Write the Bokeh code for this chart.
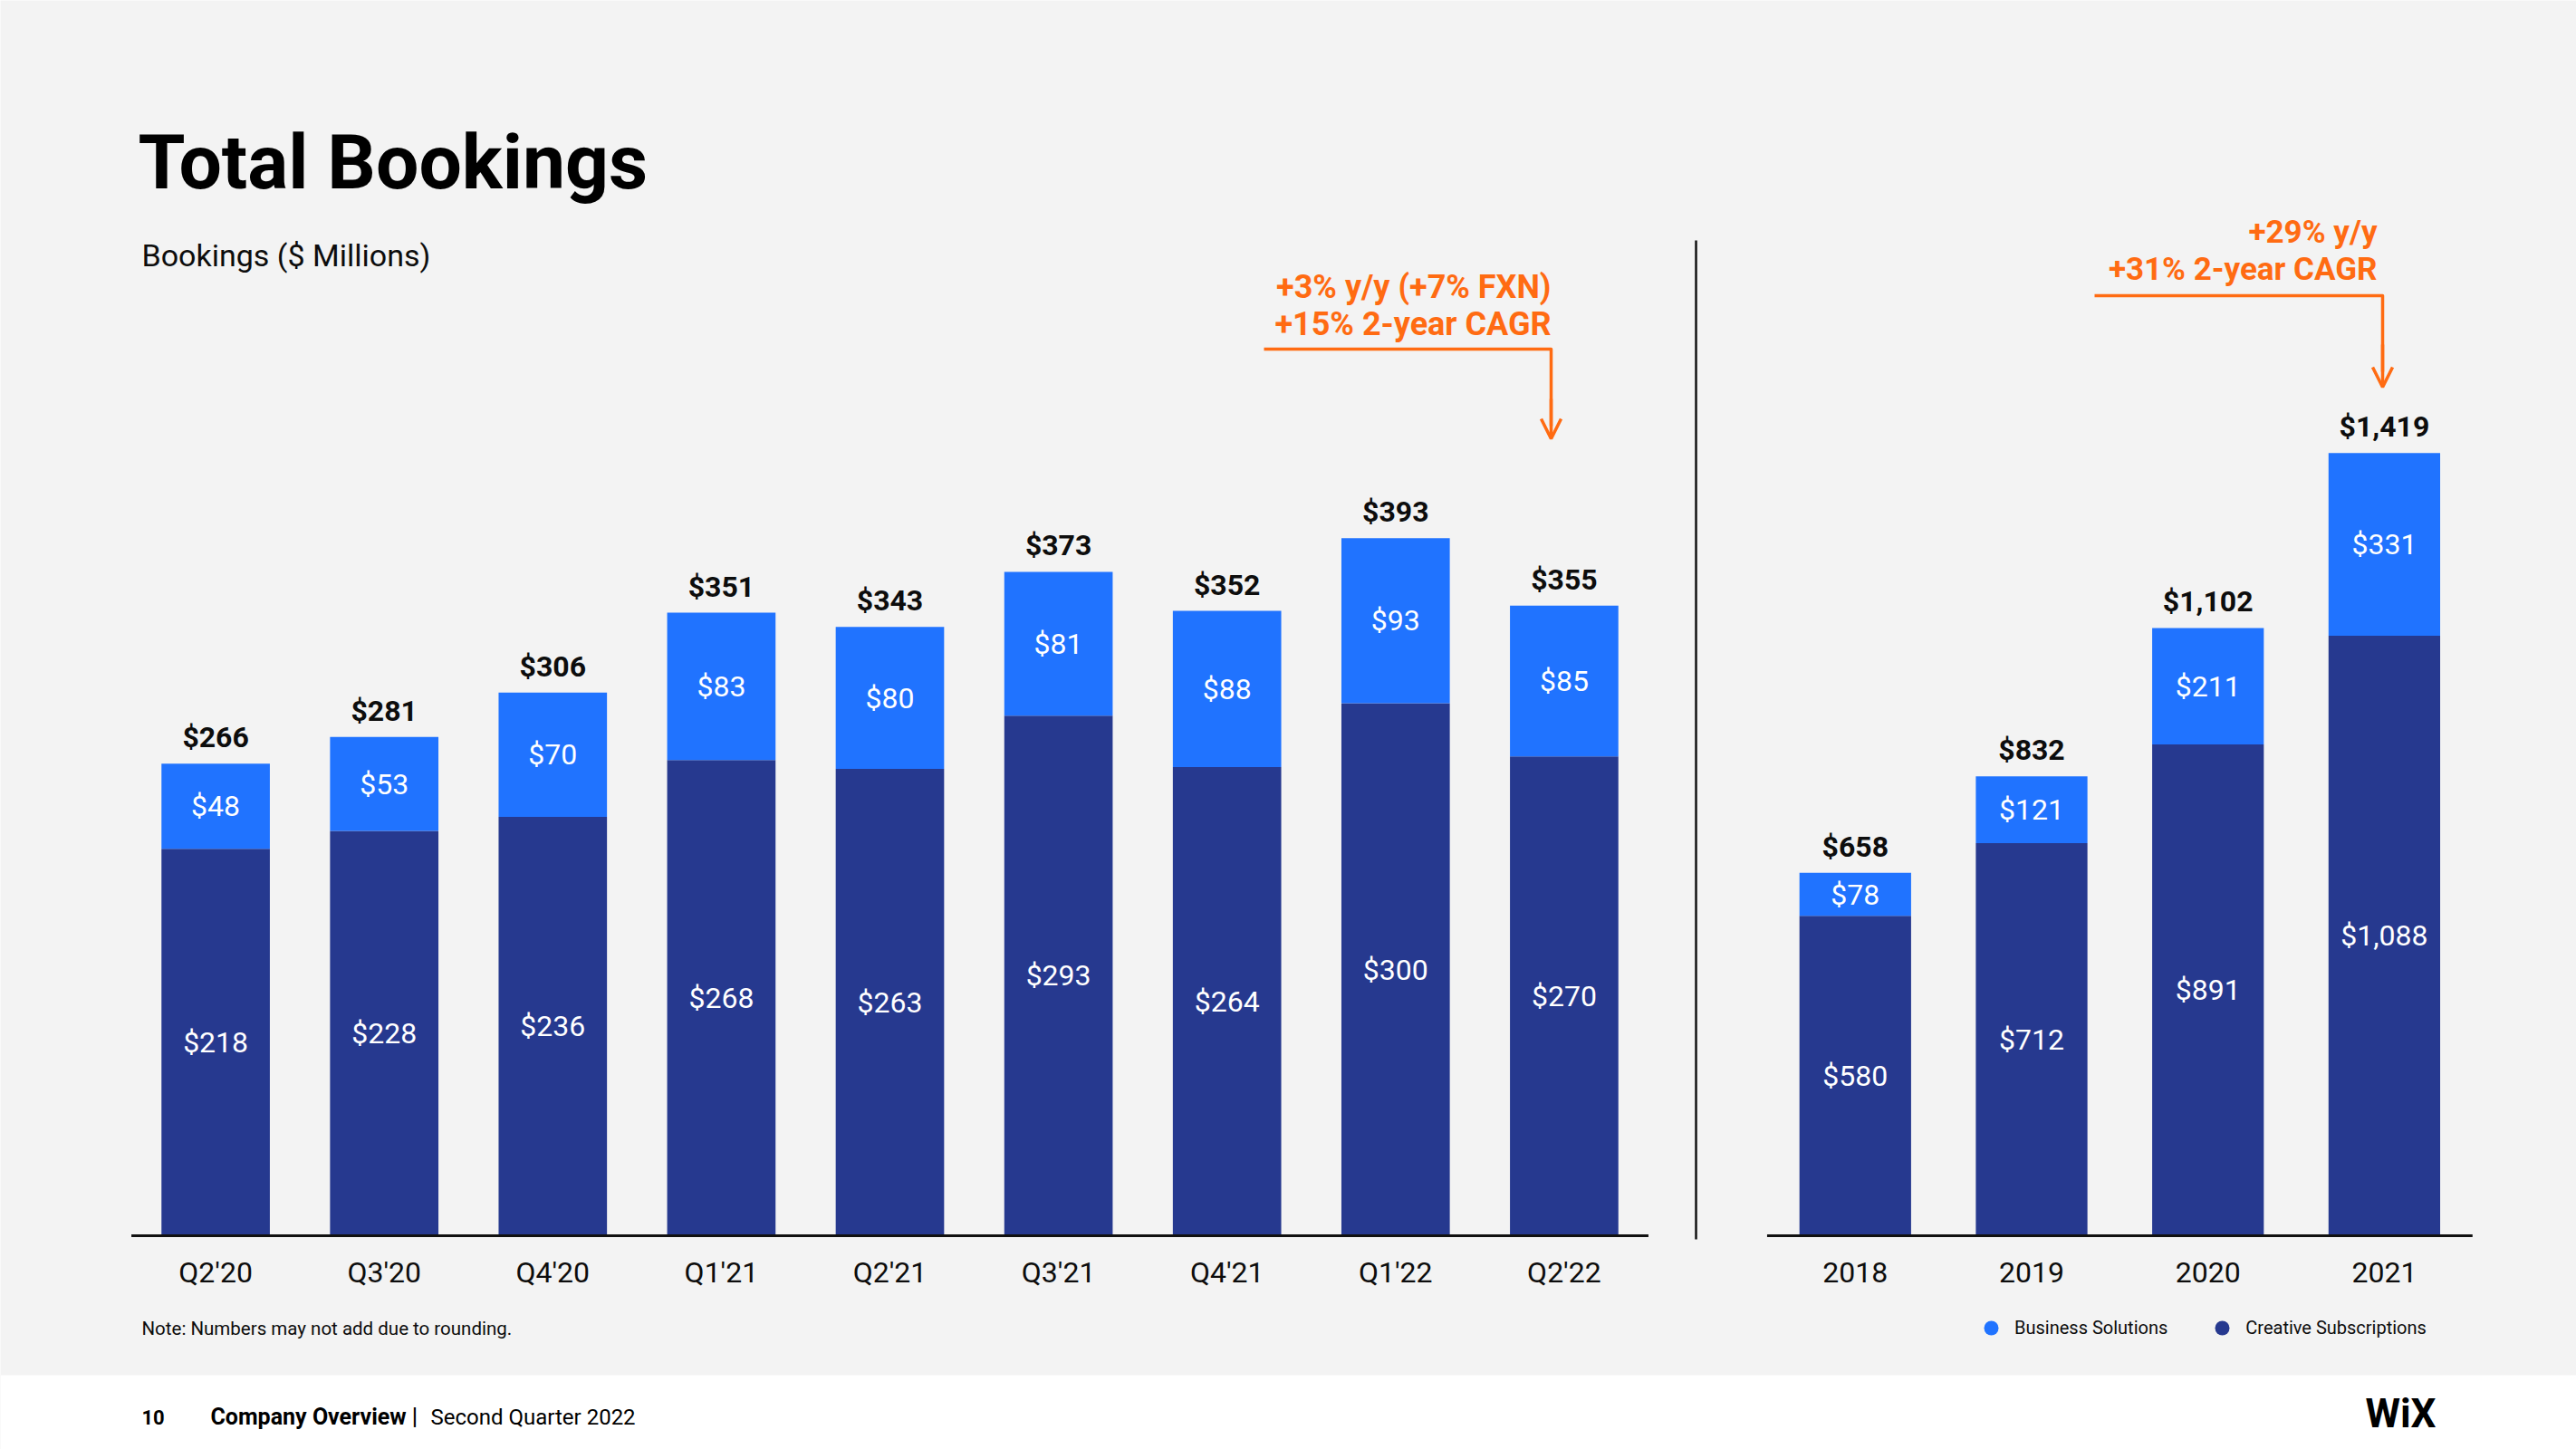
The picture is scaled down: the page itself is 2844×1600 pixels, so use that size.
from bokeh.plotting import figure
from bokeh.models import Range1d, ColumnDataSource, Arrow, OpenHead, Legend, LegendItem
from bokeh.embed import file_html
from bokeh.resources import INLINE
from bokeh.core.properties import value

# ---------------- data ----------------
quarters = ["Q2'20", "Q3'20", "Q4'20", "Q1'21", "Q2'21", "Q3'21", "Q4'21", "Q1'22", "Q2'22"]
q_creative = [218, 228, 236, 268, 263, 293, 264, 300, 270]
q_business = [48, 53, 70, 83, 80, 81, 88, 93, 85]
q_total = [266, 281, 306, 351, 343, 373, 352, 393, 355]

years = ["2018", "2019", "2020", "2021"]
y_creative = [580, 712, 891, 1088]
y_business = [78, 121, 211, 331]
y_total = [658, 832, 1102, 1419]

series_names = ["Business Solutions", "Creative Subscriptions"]

# ---------------- style ----------------
W, H = 2844, 1600
BG = "#F3F3F3"
NAVY = "#26398F"
BLUE = "#2073FF"
ORANGE = "#FF6B12"
INK = "#0D0D0D"
FONT = value("Roboto")

p = figure(width=W, height=H, output_backend="svg", toolbar_location=None,
           x_range=Range1d(0, W), y_range=Range1d(H, 0),
           x_axis_location=None, y_axis_location=None, min_border=0,
           background_fill_color=BG, border_fill_color=BG, outline_line_color=None)
p.grid.visible = False


def lin_range(px0, ppu, length):
    start = -px0 / ppu
    return Range1d(start, start + length / ppu)


BASE_Y = 1364  # page y of the baseline
p.extra_x_ranges = {
    "qx": lin_range(237.6, 186.1, W),
    "ax": lin_range(2047.8, 194.7, W),
}
p.extra_y_ranges = {
    "qy": lin_range(H - BASE_Y, 1.96, H),
    "ay": lin_range(H - BASE_Y, 0.609, H),
}

# white footer band
p.quad(left=0, right=W, top=1518, bottom=H, fill_color="white", line_color=None)


def fmt(v):
    return "$" + f"{v:,}"


def draw_chart(cats, creative, business, totals, xr, yr, bar_w):
    n = len(cats)
    idx = list(range(n))
    top = [c + b for c, b in zip(creative, business)]
    src = ColumnDataSource(dict(
        x=idx, c=creative, top=top,
        c_mid=[c / 2 for c in creative],
        b_mid=[c + b / 2 for c, b in zip(creative, business)],
        c_lbl=[fmt(v) for v in creative],
        b_lbl=[fmt(v) for v in business],
        t_lbl=[fmt(v) for v in totals],
        cat=cats, zero=[0] * n))
    kw = dict(source=src, x_range_name=xr, y_range_name=yr)
    p.vbar(x="x", width=bar_w, bottom=0, top="c", fill_color=NAVY, line_color=None, **kw)
    p.vbar(x="x", width=bar_w, bottom="c", top="top", fill_color=BLUE, line_color=None, **kw)
    tkw = dict(text_font=FONT, text_align="center", text_baseline="middle", **kw)
    p.text(x="x", y="c_mid", text="c_lbl", text_color="white", text_font_size="32px", **tkw)
    p.text(x="x", y="b_mid", text="b_lbl", text_color="white", text_font_size="32px", **tkw)
    p.text(x="x", y="top", text="t_lbl", text_color=INK, text_font_size="32px",
           text_font_style="bold", y_offset=-29, **tkw)
    p.text(x="x", y="zero", text="cat", text_color=INK, text_font_size="32px", y_offset=40, **tkw)
    p.segment(x0=-0.5, x1=n - 0.5, y0=0, y1=0, line_color="#111111", line_width=3,
              x_range_name=xr, y_range_name=yr)


draw_chart(quarters, q_creative, q_business, q_total, "qx", "qy", 0.643)
draw_chart(years, y_creative, y_business, y_total, "ax", "ay", 0.633)

# separator
p.segment(x0=1872, x1=1872, y0=265, y1=1368, line_color="#111111", line_width=2.5)

# titles
p.text(x=[152], y=[179], text=["Total Bookings"], text_font=FONT, text_font_size="84px",
       text_font_style="bold", text_color="black", text_baseline="middle")
p.text(x=[156], y=[281], text=["Bookings ($ Millions)"], text_font=FONT, text_font_size="34px",
       text_color=INK, text_baseline="middle")

# annotations
akw = dict(text_font=FONT, text_font_style="bold", text_color=ORANGE,
           text_align="right", text_baseline="middle")
p.text(x=[1712, 1712], y=[316, 357], text=["+3% y/y (+7% FXN)", "+15% 2-year CAGR"],
       text_font_size="36px", **akw)
p.text(x=[2624, 2624], y=[256, 297], text=["+29% y/y", "+31% 2-year CAGR"],
       text_font_size="35px", **akw)

p.line(x=[1395, 1712, 1712], y=[385, 385, 470], line_color=ORANGE, line_width=3.5, line_join="round")
p.add_layout(Arrow(x_start=1712, y_start=440, x_end=1712, y_end=484,
                   end=OpenHead(size=22, line_color=ORANGE, line_width=3.5),
                   line_color=ORANGE, line_width=3.5))
p.line(x=[2312, 2630, 2630], y=[326, 326, 410], line_color=ORANGE, line_width=3.5, line_join="round")
p.add_layout(Arrow(x_start=2630, y_start=380, x_end=2630, y_end=427,
                   end=OpenHead(size=22, line_color=ORANGE, line_width=3.5),
                   line_color=ORANGE, line_width=3.5))

# legend (marker renderers hold one point outside the visible area)
r1 = p.scatter(x=[-1000], y=[-1000], marker="circle", size=17, fill_color=BLUE, line_color=None)
r2 = p.scatter(x=[-1000], y=[-1000], marker="circle", size=17, fill_color=NAVY, line_color=None)
legend = Legend(items=[LegendItem(label=series_names[0], renderers=[r1]),
                       LegendItem(label=series_names[1], renderers=[r2])],
                orientation="horizontal", location=(2178, H - 1466 - 20),
                glyph_width=40, glyph_height=40, label_standoff=6, spacing=40,
                padding=0, margin=0, background_fill_alpha=0, border_line_color=None,
                label_text_font="Roboto", label_text_font_size="20px", label_text_color=INK)
p.add_layout(legend)

# note + footer
p.text(x=[156], y=[1466], text=["Note: Numbers may not add due to rounding."], text_font=FONT,
       text_font_size="20.5px", text_color=INK, text_baseline="middle")
p.text(x=[156], y=[1564], text=["10"], text_font=FONT,
       text_font_size="22px", text_font_style="bold", text_color="black", text_baseline="middle")
p.text(x=[232], y=[1564], text=["Company Overview |"], text_font=FONT,
       text_font_size="25px", text_font_style="bold", text_color="black", text_baseline="middle")
p.text(x=[475], y=[1564], text=["Second Quarter 2022"], text_font=FONT,
       text_font_size="24px", text_color="black", text_baseline="middle")
p.text(x=[2650], y=[1560], text=["WiX"], text_font=FONT, text_font_size="44px",
       text_font_style="bold", text_color="black", text_align="center", text_baseline="middle")

open("out.html", "w").write(file_html(p, INLINE))
